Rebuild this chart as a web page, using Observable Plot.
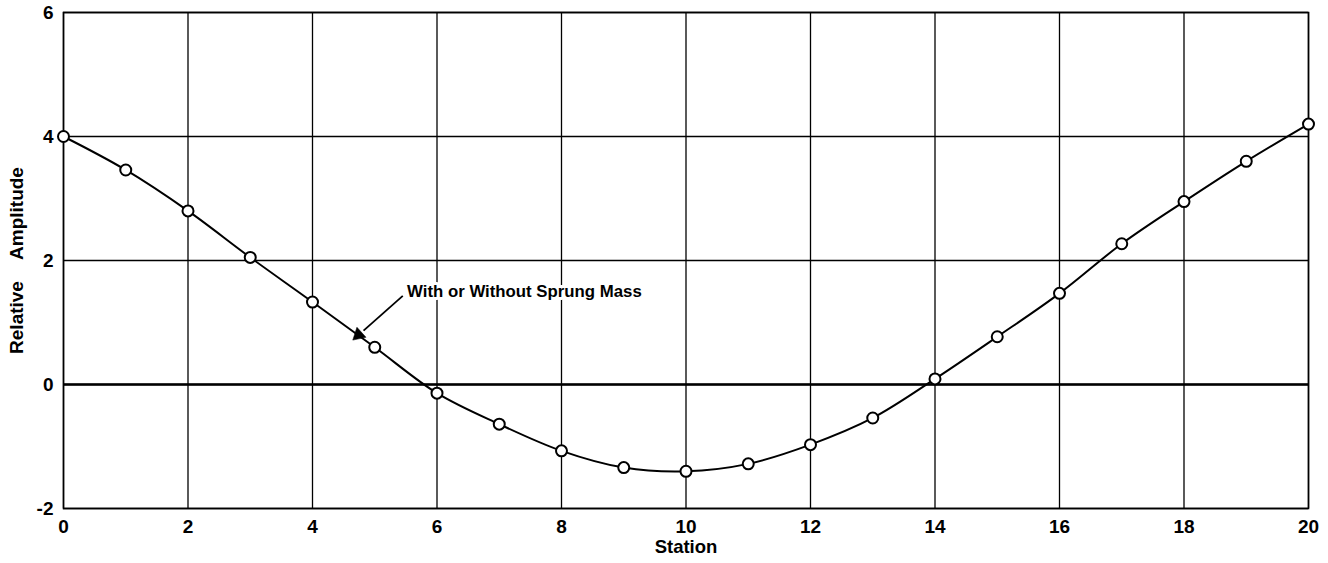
<!DOCTYPE html>
<html>
<head>
<meta charset="utf-8">
<script src="https://cdn.jsdelivr.net/npm/d3@7"></script>
<script src="https://cdn.jsdelivr.net/npm/@observablehq/plot@0.6"></script>
<style>
  html, body { margin: 0; padding: 0; background: #fff; }
  #chart svg { display: block; }
</style>
</head>
<body>
<div id="chart"></div>
<script>
const stations = [0, 1, 2, 3, 4, 5, 6, 7, 8, 9, 10, 11, 12, 13, 14, 15, 16, 17, 18, 19, 20];
const amplitude = [4.0, 3.46, 2.8, 2.05, 1.33, 0.6, -0.14, -0.64, -1.07, -1.34, -1.4, -1.28, -0.97, -0.54, 0.09, 0.77, 1.47, 2.27, 2.95, 3.6, 4.2];
const xTicks = [0, 2, 4, 6, 8, 10, 12, 14, 16, 18, 20];
const yTicks = [-2, 0, 2, 4, 6];
const annotationText = ["With or Without Sprung Mass"];
const annotationAt = [{x: 5.52, y: 1.5}];
const arrowFrom = [{x: 5.45, y: 1.43}];
const arrowTo = [{x: 4.82, y: 0.87}];
const arrowTip = [{x: 4.74, y: 0.8}];

const data = stations.map((s, i) => ({station: s, amp: amplitude[i]}));
const annotations = annotationText.map((t, i) => ({text: t, ...annotationAt[i]}));
const arrows = arrowFrom.map((f, i) => ({x1: f.x, y1: f.y, x2: arrowTo[i].x, y2: arrowTo[i].y}));

const font = "'Liberation Sans', Arial, sans-serif";
const yFmt = d => (d < 0 ? "-" : "") + Math.abs(d);

const chart = Plot.plot({
  width: 1328,
  height: 563,
  marginLeft: 63,
  marginRight: 20,
  marginTop: 12,
  marginBottom: 55,
  style: {fontFamily: font, fontSize: "19px", fontWeight: "bold", color: "#000", background: "#fff"},
  x: {domain: [0, 20], ticks: xTicks, tickFormat: d => String(d)},
  y: {domain: [-2, 6], ticks: yTicks, tickFormat: yFmt},
  marks: [
    Plot.gridX(xTicks, {stroke: "#000", strokeOpacity: 1, strokeWidth: 1.3}),
    Plot.gridY(yTicks, {stroke: "#000", strokeOpacity: 1, strokeWidth: 1.3}),
    Plot.ruleY([0], {stroke: "#000", strokeWidth: 2.6}),
    Plot.frame({stroke: "#000", strokeWidth: 1.6}),
    Plot.axisX(xTicks, {
      tickSize: 0, tickPadding: 11, fontSize: 19, fontWeight: "bold",
      tickFormat: d => String(d),
      label: null
    }),
    Plot.axisX({
      ticks: [], tickSize: 0, fontSize: 18.5, fontWeight: "bold",
      label: "Station", labelAnchor: "center", labelArrow: "none", labelOffset: 44
    }),
    Plot.axisY(yTicks, {
      tickSize: 0, tickPadding: 10, fontSize: 19, fontWeight: "bold",
      tickFormat: yFmt, label: null
    }),
    Plot.axisY({
      ticks: [], tickSize: 0, fontSize: 19, fontWeight: "bold",
      label: "Relative\u00a0\u00a0\u00a0\u00a0Amplitude", labelAnchor: "center", labelArrow: "none", labelOffset: 54
    }),
    Plot.line(data, {x: "station", y: "amp", curve: "catmull-rom", stroke: "#000", strokeWidth: 2}),
    Plot.dot(data, {x: "station", y: "amp", r: 5.5, fill: "#fff", stroke: "#000", strokeWidth: 2}),
    Plot.text(annotations, {
      x: "x", y: "y", text: "text", textAnchor: "start", fontSize: 16.8, fontWeight: "bold",
      fill: "#000", stroke: "#fff", strokeWidth: 6
    }),
    Plot.link(arrows, {
      x1: "x1", y1: "y1", x2: "x2", y2: "y2", stroke: "#000", strokeWidth: 1.8
    }),
    Plot.dot(arrowTip, {x: "x", y: "y", symbol: "triangle", r: 5, rotate: -132, fill: "#000", stroke: "#000", strokeWidth: 0.5})
  ]
});
document.getElementById("chart").appendChild(chart);
</script>
</body>
</html>
